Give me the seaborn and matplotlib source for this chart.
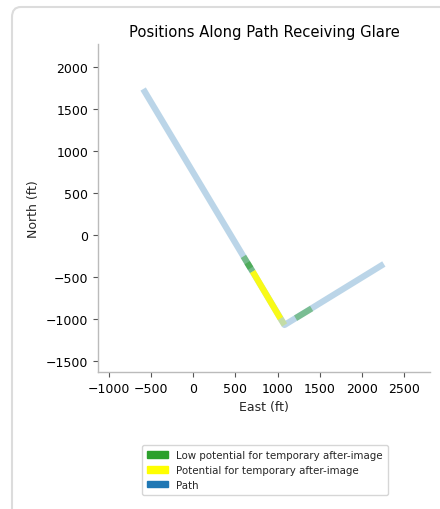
import matplotlib
matplotlib.use("Agg")
import matplotlib.pyplot as plt
import seaborn as sns
import pandas as pd
from matplotlib.patches import Patch, FancyBboxPatch

# Path vertices (ft)
path_east = [-595, 1083, 2262]
path_north = [1738, -1071, -345]

# Glare segments along the path (ft)
low1_east = [595, 705]
low1_north = [-255, -435]
low1_core_east = [640, 680]
low1_core_north = [-330, -395]
pot_east = [705, 1035]
pot_north = [-435, -995]
low2_east = [1215, 1405]
low2_north = [-990, -875]
faint_east = [1035, 1083]
faint_north = [-995, -1071]

legend_labels = ["Low potential for temporary after-image",
                 "Potential for temporary after-image",
                 "Path"]
legend_colors = ["#2ca02c", "#ffff00", "#1f77b4"]

sns.set_style("ticks")
plt.rcParams['font.family'] = ['DejaVu Sans']

fig = plt.figure(figsize=(4.4, 5.1), dpi=100)
# card frame
card = FancyBboxPatch((12 / 440, -0.05), 1.2, (510 - 8) / 510 + 0.05,
                      boxstyle="round,pad=0,rounding_size=0.02",
                      transform=fig.transFigure, facecolor="white",
                      edgecolor="#dcdcdc", linewidth=1.5, zorder=-10)
fig.patches.append(card)

ax = fig.add_axes([98 / 440, 1 - 373 / 510, 332 / 440, 328 / 510])
ax.set_facecolor("none")

df_path = pd.DataFrame({"east": path_east, "north": path_north})
sns.lineplot(data=df_path, x="east", y="north", ax=ax, sort=False,
             color="#1f77b4", alpha=0.3, linewidth=4.5, estimator=None,
             solid_capstyle="butt")

for e, n, c, a in [(low1_east, low1_north, "#2ca02c", 0.5),
                   (low1_core_east, low1_core_north, "#2ca02c", 0.5),
                   (pot_east, pot_north, "#ffff00", 0.9),
                   (faint_east, faint_north, "#c9e27a", 0.6),
                   (low2_east, low2_north, "#2ca02c", 0.45)]:
    d = pd.DataFrame({"east": e, "north": n})
    sns.lineplot(data=d, x="east", y="north", ax=ax, sort=False, color=c,
                 alpha=a, linewidth=4.5, estimator=None, solid_capstyle="butt")

ax.set_xlim(-1131, 2810)
ax.set_ylim(-1631, 2274)
ax.set_xticks([-1000, -500, 0, 500, 1000, 1500, 2000, 2500])
ax.set_yticks([-1500, -1000, -500, 0, 500, 1000, 1500, 2000])
ax.set_xlabel("East (ft)", fontsize=9)
ax.set_ylabel("North (ft)", fontsize=9)
ax.tick_params(labelsize=9, length=3.5, color="#555555", labelcolor="black")
ax.set_title("Positions Along Path Receiving Glare", fontsize=10.6, color="black")
sns.despine(ax=ax)
for s in ["left", "bottom"]:
    ax.spines[s].set_color("#bbbbbb")
    ax.spines[s].set_linewidth(1.0)

handles = [Patch(facecolor=c, edgecolor=c) for c in legend_colors]
leg = fig.legend(handles, legend_labels, loc="center",
                 bbox_to_anchor=(265 / 440, 1 - 471 / 510),
                 fontsize=7.4, frameon=True, handlelength=2.0, handleheight=0.6,
                 borderpad=0.55, labelspacing=0.45, fancybox=True)
leg.get_frame().set_edgecolor("#cccccc")

fig.savefig("out.png", dpi=100)
